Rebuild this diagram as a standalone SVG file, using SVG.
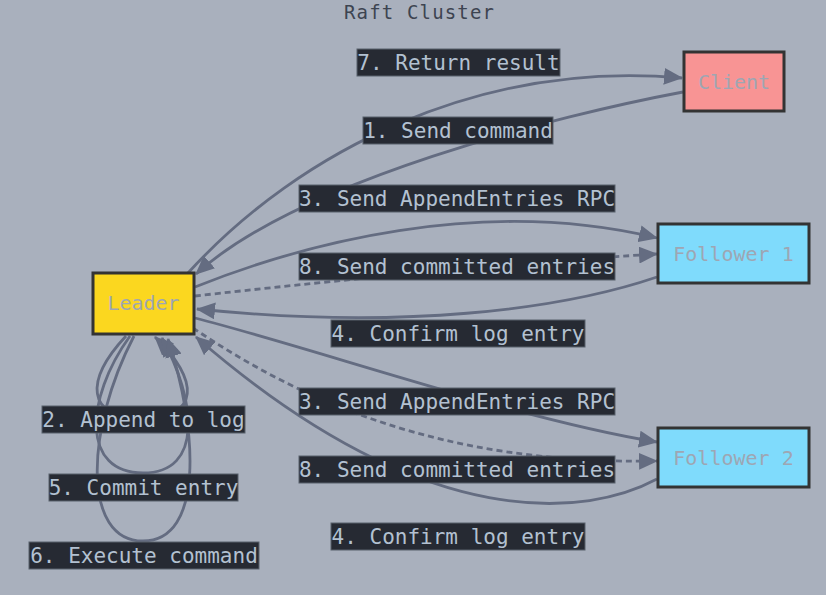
<svg xmlns="http://www.w3.org/2000/svg" width="826" height="595" viewBox="0 0 826 595">
<style>
.bg{fill:#a9b0bd}
.title{font-family:"DejaVu Sans Mono",monospace;font-size:19px;fill:#3d4451;text-anchor:middle}
.node rect{stroke:#333333;stroke-width:3}
.node text{font-family:"DejaVu Sans Mono",monospace;font-size:20px;fill:#9ea6b3;text-anchor:middle}
.edge{fill:none;stroke:#646c81;stroke-width:2.8}
.dash{stroke-dasharray:6 4}
.lbl rect{fill:#262a33;stroke:#59606c;stroke-width:1}
.lbl text{font-family:"DejaVu Sans Mono",monospace;font-size:21px;fill:#b3c1d1;text-anchor:middle}
</style>
<defs>
<marker id="arr" viewBox="0 0 19 17" refX="18" refY="8.5" markerWidth="19" markerHeight="17" markerUnits="userSpaceOnUse" orient="auto">
<path d="M0,0 L19,8.5 L0,17 z" fill="#646c81"/>
</marker>
</defs>
<rect class="bg" x="0" y="0" width="826" height="595"/>
<text class="title" x="419" y="19" textLength="150" lengthAdjust="spacing">Raft Cluster</text>
<g id="connectors">
<path class="edge" d="M683,92 C560,115 300,180 196,274" marker-end="url(#arr)"/>
<path class="edge" d="M188,273 C300,150 480,60 682,78" marker-end="url(#arr)"/>
<path class="edge" d="M195,287 C300,245 480,195 657,238" marker-end="url(#arr)"/>
<path class="edge dash" d="M195,296 C320,282 520,262 657,254" marker-end="url(#arr)"/>
<path class="edge" d="M657,277 C560,310 400,330 197,309" marker-end="url(#arr)"/>
<path class="edge" d="M195,318 C320,350 520,420 657,442" marker-end="url(#arr)"/>
<path class="edge dash" d="M193,328 C300,400 440,465 657,461" marker-end="url(#arr)"/>
<path class="edge" d="M657,479 C590,515 430,540 196,337" marker-end="url(#arr)"/>
<path class="edge" d="M126,336 C85,380 85,418 143,418 C200,418 200,380 155,337" marker-end="url(#arr)"/>
<path class="edge" d="M130,336 C84,400 82,473 143,473 C204,473 196,400 162,338" marker-end="url(#arr)"/>
<path class="edge" d="M134,336 C85,430 82,541 143,541 C204,541 198,430 168,339" marker-end="url(#arr)"/>
</g>
<g id="labels">
<g class="lbl"><rect x="357" y="49" width="203" height="27"/><text x="458.5" y="70">7. Return result</text></g>
<g class="lbl"><rect x="363" y="117" width="190" height="27"/><text x="458" y="138">1. Send command</text></g>
<g class="lbl"><rect x="299" y="185" width="316" height="27"/><text x="457" y="206">3. Send AppendEntries RPC</text></g>
<g class="lbl"><rect x="299" y="253" width="316" height="27"/><text x="457" y="274">8. Send committed entries</text></g>
<g class="lbl"><rect x="331" y="320" width="254" height="27"/><text x="458" y="341">4. Confirm log entry</text></g>
<g class="lbl"><rect x="299" y="388" width="316" height="27"/><text x="457" y="409">3. Send AppendEntries RPC</text></g>
<g class="lbl"><rect x="299" y="456" width="316" height="27"/><text x="457" y="477">8. Send committed entries</text></g>
<g class="lbl"><rect x="331" y="523" width="254" height="27"/><text x="458" y="544">4. Confirm log entry</text></g>
<g class="lbl"><rect x="42" y="406" width="203" height="27"/><text x="143.5" y="427">2. Append to log</text></g>
<g class="lbl"><rect x="49" y="474" width="189" height="27"/><text x="143.5" y="495">5. Commit entry</text></g>
<g class="lbl"><rect x="29" y="542" width="230" height="27"/><text x="144" y="563">6. Execute command</text></g>
</g>
<g id="leader" class="node"><rect x="93" y="273" width="101" height="61" fill="#fbd71f"/><text x="143.5" y="310">Leader</text></g>
<g id="client" class="node"><rect x="684" y="52" width="100" height="59" fill="#f89494"/><text x="734" y="89">Client</text></g>
<g id="follower1" class="node"><rect x="658" y="224" width="151" height="59" fill="#7fdbfc"/><text x="733.5" y="261">Follower 1</text></g>
<g id="follower2" class="node"><rect x="658" y="428" width="151" height="59" fill="#7fdbfc"/><text x="733.5" y="465">Follower 2</text></g>
</svg>
